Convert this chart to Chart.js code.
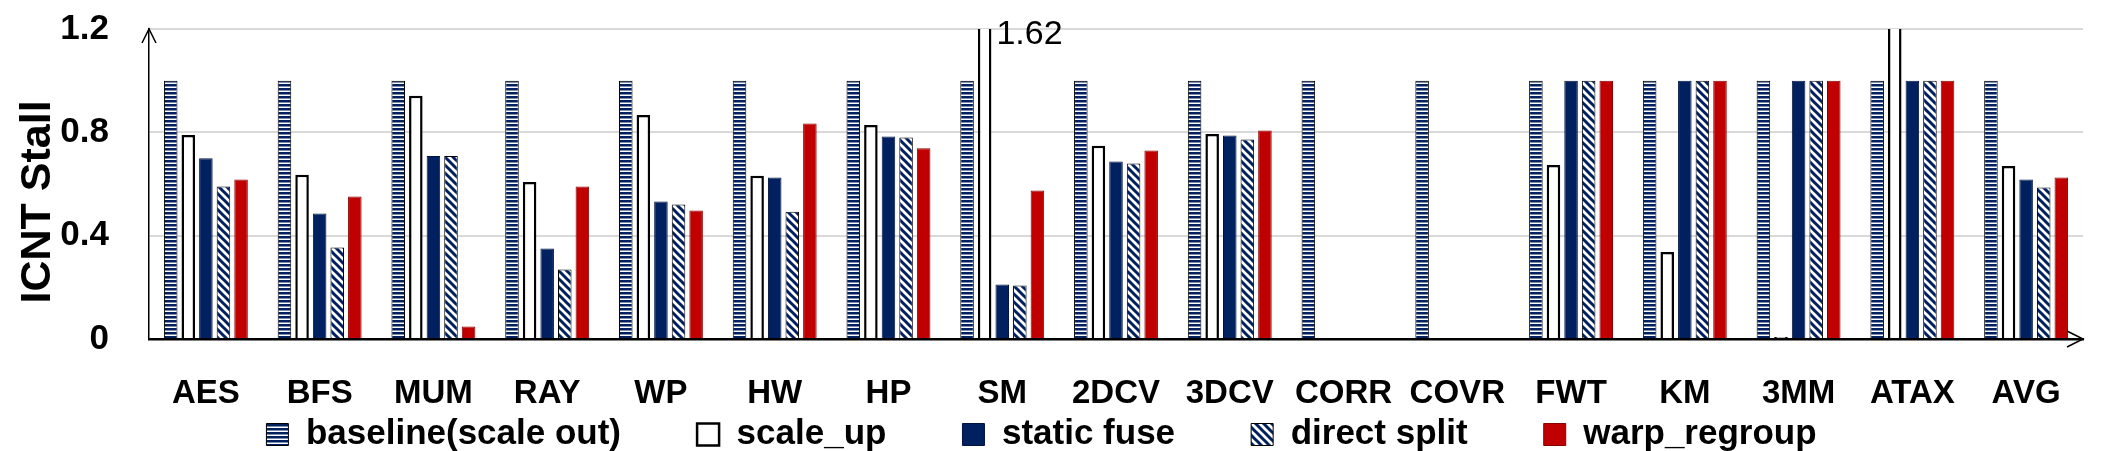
<!DOCTYPE html>
<html>
<head>
<meta charset="utf-8">
<script src="https://cdn.jsdelivr.net/npm/chart.js@4.4.1/dist/chart.umd.min.js"></script>
<style>
  html, body { margin: 0; padding: 0; background: #fff; }
</style>
</head>
<body>
<canvas id="icntChart" width="2101" height="451"></canvas>
<script>
// benchmarks along the x axis
const categories = ['AES', 'BFS', 'MUM', 'RAY', 'WP', 'HW', 'HP', 'SM', '2DCV', '3DCV', 'CORR', 'COVR', 'FWT', 'KM', '3MM', 'ATAX', 'AVG'];

// normalised ICNT stall per scheme (null = no bar)
const baseline    = [1, 1, 1, 1, 1, 1, 1, 1, 1, 1, 1, 1, 1, 1, 1, 1, 1];
const scaleUp     = [0.79, 0.636, 0.942, 0.608, 0.867, 0.632, 0.828, 1.62, 0.748, 0.794, null, null, 0.674, 0.337, 0.008, 1.4, 0.67];
const staticFuse  = [0.70, 0.486, 0.708, 0.350, 0.532, 0.625, 0.784, 0.211, 0.687, 0.788, null, null, 1, 1, 1, 1, 0.617];
const directSplit = [0.59, 0.354, 0.708, 0.269, 0.521, 0.493, 0.780, 0.207, 0.679, 0.772, null, null, 1, 1, 1, 1, 0.586];
const warpRegroup = [0.617, 0.552, 0.048, 0.590, 0.497, 0.834, 0.738, 0.575, 0.730, 0.807, null, null, 1, 1, 1, 1, 0.625];

const yTicks = [0, 0.4, 0.8, 1.2];
// off-scale bars that carry their value as text in the figure
const labelledOverflow = ['SM'];

const NAVY = '#002060';
const RED = '#C00000';

Chart.defaults.font.family = '"Liberation Sans", Arial, sans-serif';
Chart.defaults.color = '#000';

// hatch fills for baseline / direct split
function makePattern(kind) {
    const tile = document.createElement('canvas');
    const t = tile.getContext('2d');
    if (kind === 'horizontal') {
        tile.width = 4; tile.height = 4;
        t.fillStyle = '#fff'; t.fillRect(0, 0, 4, 4);
        t.fillStyle = NAVY; t.fillRect(0, 0, 4, 2.5);
    } else {
        tile.width = 8; tile.height = 8;
        t.fillStyle = '#fff'; t.fillRect(0, 0, 8, 8);
        t.strokeStyle = NAVY; t.lineWidth = 3;
        t.beginPath();
        t.moveTo(-2, -2); t.lineTo(10, 10);
        t.moveTo(-2, 6); t.lineTo(2, 10);
        t.moveTo(6, -2); t.lineTo(10, 2);
        t.stroke();
    }
    return document.createElement('canvas').getContext('2d').createPattern(tile, 'repeat');
}

// arrows on both axes + value text for clipped bars
const axisExtras = {
    id: 'axisExtras',
    afterDraw(chart) {
        const { ctx, chartArea: a } = chart;
        ctx.save();
        ctx.strokeStyle = '#000';
        ctx.lineWidth = 1.5;
        ctx.beginPath();
        ctx.moveTo(a.left - 7, a.top + 14); ctx.lineTo(a.left, a.top); ctx.lineTo(a.left + 7, a.top + 14);
        ctx.moveTo(a.right - 16, a.bottom - 8); ctx.lineTo(a.right, a.bottom); ctx.lineTo(a.right - 16, a.bottom + 8);
        ctx.stroke();

        const meta = chart.getDatasetMeta(1);
        const yMax = chart.scales.y.max;
        ctx.font = '34px "Liberation Sans", Arial, sans-serif';
        ctx.fillStyle = '#000';
        ctx.textBaseline = 'middle';
        labelledOverflow.forEach(name => {
            const i = categories.indexOf(name);
            if (scaleUp[i] > yMax) {
                const bar = meta.data[i];
                ctx.fillText(scaleUp[i].toFixed(2), bar.x + bar.width / 2 + 5, a.top + 6);
            }
        });
        ctx.restore();
    }
};

new Chart(document.getElementById('icntChart'), {
    type: 'bar',
    data: {
        labels: categories,
        datasets: [
            { label: 'baseline(scale out)', data: baseline, backgroundColor: makePattern('horizontal'), borderColor: '#000', borderWidth: 1 },
            { label: 'scale_up', data: scaleUp, backgroundColor: '#fff', borderColor: '#000', borderWidth: 2.5 },
            { label: 'static fuse', data: staticFuse, backgroundColor: NAVY, borderColor: '#001440', borderWidth: 1 },
            { label: 'direct split', data: directSplit, backgroundColor: makePattern('diagonal'), borderColor: '#000', borderWidth: 1 },
            { label: 'warp_regroup', data: warpRegroup, backgroundColor: RED, borderColor: '#8a0000', borderWidth: 1 }
        ]
    },
    options: {
        responsive: false,
        animation: false,
        layout: {
            padding: { left: 0, right: 18, top: 29, bottom: -11 }
        },
        datasets: {
            bar: { categoryPercentage: 0.773, barPercentage: 0.77 }
        },
        plugins: {
            tooltip: { enabled: false },
            legend: {
                position: 'bottom',
                labels: {
                    boxWidth: 22,
                    boxHeight: 22,
                    padding: 8,
                    color: '#000',
                    font: { size: 35, weight: 'bold' },
                    generateLabels(chart) {
                        const items = Chart.defaults.plugins.legend.labels.generateLabels(chart);
                        // wider gaps between entries than the vertical padding allows
                        return items.map((item, i) => {
                            if (i < items.length - 1) item.text += '\u00a0'.repeat(7);
                            return item;
                        });
                    }
                }
            }
        },
        scales: {
            x: {
                grid: { display: false, drawTicks: false },
                border: { color: '#000', width: 2.5 },
                ticks: {
                    padding: 35,
                    color: '#000',
                    autoSkip: false,
                    maxRotation: 0,
                    font: { size: 33, weight: 'bold' }
                },
                afterFit(scale) { scale.height = 70; }
            },
            y: {
                min: 0,
                max: 1.2,
                afterBuildTicks(scale) {
                    scale.ticks = yTicks.map(v => ({ value: v }));
                },
                grid: { color: '#d9d9d9', lineWidth: 2, drawTicks: false },
                border: { color: '#000', width: 1.5 },
                ticks: {
                    padding: 40,
                    color: '#000',
                    font: { size: 35, weight: 'bold' },
                    callback: v => (v === 0 ? '0' : v.toFixed(1))
                },
                title: {
                    display: true,
                    // trailing spaces nudge the rotated title a bit lower, as in the figure
                    text: 'ICNT Stall\u00a0\u00a0\u00a0',
                    color: '#000',
                    font: { size: 43, weight: 'bold' },
                    padding: { top: 12, bottom: 0 }
                },
                afterFit(scale) {
                    scale.width = 149;
                    // keep the plot top at the layout padding, labels may overhang
                    scale.paddingTop = 0;
                }
            }
        }
    },
    plugins: [axisExtras]
});
</script>
</body>
</html>
